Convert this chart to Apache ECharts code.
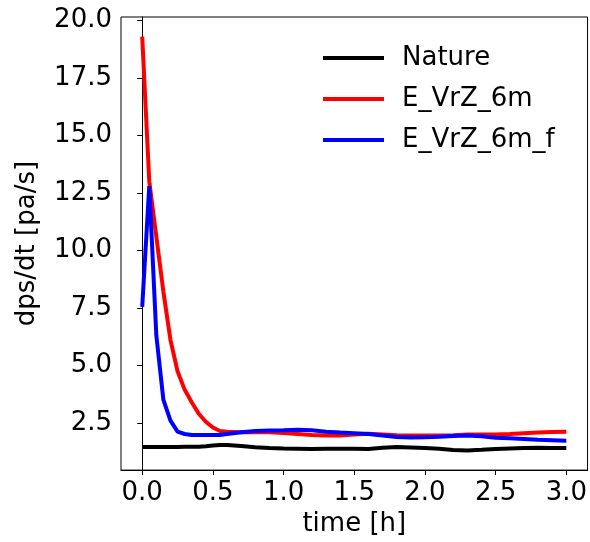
<!DOCTYPE html>
<html>
<head>
<meta charset="utf-8">
<script src="https://cdn.jsdelivr.net/npm/echarts@6/dist/echarts.min.js"></script>
<style>
  * { margin: 0; padding: 0; }
  body { background: #fff; }
  #chart-container { width: 590px; height: 542px; }
</style>
</head>
<body>
<div id="chart-container"></div>
<script>
  // time [h]
  var times = [0, 0.05, 0.1, 0.15, 0.2, 0.25, 0.3, 0.35, 0.4, 0.45, 0.5, 0.55, 0.6,
    0.7, 0.8, 0.9, 1.0, 1.1, 1.2, 1.3, 1.4, 1.5, 1.6, 1.7, 1.8, 1.9, 2.0,
    2.1, 2.2, 2.3, 2.4, 2.5, 2.6, 2.7, 2.8, 2.9, 3.0]

  var nature = [1.45, 1.45, 1.45, 1.45, 1.45, 1.45, 1.46, 1.46, 1.47, 1.49, 1.52, 1.54, 1.54,
    1.5, 1.44, 1.41, 1.39, 1.38, 1.37, 1.38, 1.38, 1.38, 1.37, 1.42, 1.45, 1.43, 1.41,
    1.38, 1.32, 1.3, 1.33, 1.37, 1.39, 1.41, 1.42, 1.41, 1.41]

  var vrz6m = [19.3, 13.0, 10.6, 8.2, 6.1, 4.75, 3.95, 3.4, 2.9, 2.55, 2.3, 2.15, 2.12,
    2.1, 2.1, 2.1, 2.06, 2.02, 1.98, 1.95, 1.95, 2.0, 2.03, 2.0, 1.96, 1.95, 1.95,
    1.95, 1.97, 2.0, 2.0, 2.0, 2.02, 2.05, 2.08, 2.11, 2.12]

  var vrz6mF = [7.55, 12.8, 6.3, 3.5, 2.6, 2.12, 2.02, 1.98, 1.98, 1.98, 1.98, 1.98, 2.02,
    2.1, 2.15, 2.17, 2.18, 2.2, 2.18, 2.12, 2.08, 2.05, 2.02, 1.95, 1.89, 1.87, 1.88,
    1.9, 1.93, 1.95, 1.92, 1.86, 1.83, 1.8, 1.77, 1.75, 1.73]

  var xTicks = [0, 0.5, 1.0, 1.5, 2.0, 2.5, 3.0]
  var yTicks = [2.5, 5, 7.5, 10, 12.5, 15, 17.5, 20]

  function pairs(vals) {
    return times.map(function (t, i) { return [t, vals[i]] })
  }

  var font = 'DejaVu Sans'
  var chart = echarts.init(document.getElementById('chart-container'), null, { renderer: 'canvas' })

  var option = {
    animation: false,
    grid: {
      left: 121, right: 1.5, top: 17, bottom: 70,
      show: true, borderColor: '#000', borderWidth: 1
    },
    legend: {
      orient: 'vertical',
      left: 318, top: 38,
      icon: 'rect',
      itemWidth: 61, itemHeight: 4,
      itemGap: 11,
      textStyle: { fontFamily: font, fontSize: 26, color: '#000', lineHeight: 30, padding: [0, 0, 0, 13] },
      data: ['Nature', 'E_VrZ_6m', 'E_VrZ_6m_f']
    },
    xAxis: {
      type: 'value',
      min: -0.15, max: 3.15,
      name: 'time [h]',
      nameLocation: 'middle',
      nameGap: 40,
      nameTextStyle: { fontFamily: font, fontSize: 26, color: '#000' },
      axisLine: { show: true, lineStyle: { color: '#000', width: 1 } },
      axisTick: { show: true, customValues: xTicks, length: 5, lineStyle: { color: '#000' } },
      axisLabel: {
        customValues: xTicks, margin: 10,
        fontFamily: font, fontSize: 26, color: '#000',
        formatter: function (v) { return v.toFixed(1) }
      },
      splitLine: { show: false }
    },
    yAxis: {
      type: 'value',
      min: 0.45, max: 20.15,
      name: 'dps/dt [pa/s]',
      nameLocation: 'middle',
      nameGap: 81,
      nameTextStyle: { fontFamily: font, fontSize: 26, color: '#000' },
      axisLine: { show: true, lineStyle: { color: '#000', width: 1 } },
      axisTick: { show: true, customValues: yTicks, length: 5, lineStyle: { color: '#000' } },
      axisLabel: {
        customValues: yTicks, margin: 9,
        fontFamily: font, fontSize: 26, color: '#000',
        formatter: function (v) { return v.toFixed(1) }
      },
      splitLine: { show: false }
    },
    series: [
      {
        name: 'Nature', type: 'line', data: pairs(nature),
        showSymbol: false, symbol: 'none',
        itemStyle: { color: '#000000' },
        lineStyle: { color: '#000000', width: 4 }
      },
      {
        name: 'E_VrZ_6m', type: 'line', data: pairs(vrz6m),
        showSymbol: false, symbol: 'none',
        itemStyle: { color: '#ff0000' },
        lineStyle: { color: '#ff0000', width: 4 }
      },
      {
        name: 'E_VrZ_6m_f', type: 'line', data: pairs(vrz6mF),
        showSymbol: false, symbol: 'none',
        itemStyle: { color: '#0000ff' },
        lineStyle: { color: '#0000ff', width: 4 }
      }
    ]
  }

  chart.setOption(option)
  window.addEventListener('resize', chart.resize)
</script>
</body>
</html>
